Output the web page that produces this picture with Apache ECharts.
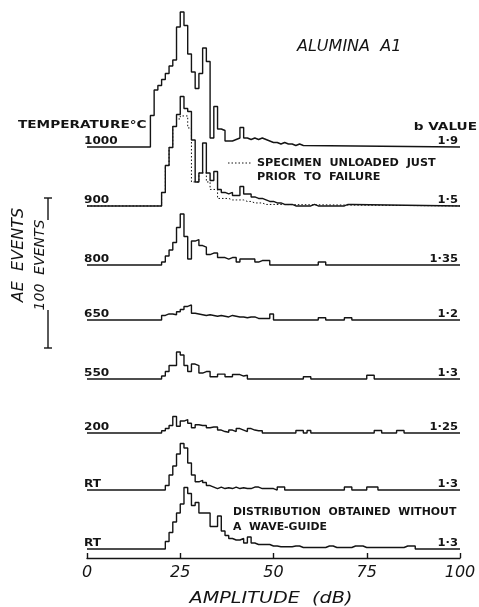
<!DOCTYPE html>
<html>
<head>
<meta charset="utf-8">
<script src="https://cdn.jsdelivr.net/npm/echarts@6/dist/echarts.min.js"></script>
<style>
  html, body { margin: 0; padding: 0; background: #fff; }
  #chart { width: 479px; height: 607px; }
</style>
</head>
<body>
<div id="chart"></div>
<script>
// AE events per 1 dB amplitude bin, first bin at BIN_START dB (zero elsewhere)
const BIN_START = 17;
const temps = ['1000', '900', '800', '650', '550', '200', 'RT', 'RT'];
const bValues = ['1·9', '1·5', '1·35', '1·2', '1·3', '1·25', '1·3', '1·3'];
const xTicks = [0, 25, 50, 75, 100];

const ev1000 = [21, 38, 41, 45, 49, 54, 58, 80, 90, 81, 62, 50, 39, 49, 66, 57, 6, 27, 12, 11,
  4, 4, 5, 6, 13, 6, 5, 6, 5, 6, 5, 4, 3, 3, 2, 3, 2, 2, 1, 2, 1];
const ev900 = [0, 0, 0, 9, 27, 39, 53, 61, 73, 65, 63, 44, 16, 22, 42, 22, 17, 23, 11, 9,
  8, 9, 7, 7, 13, 8, 8, 6, 5, 5, 4, 3, 3, 2, 2, 1, 1, 1, 0, 0,
  0, 0, 0, 1, 0, 0, 0, 0, 0, 0, 0, 0, 1, 1];
const ev900Unloaded = [0, 0, 0, 9, 27, 39, 53, 58, 60, 60, 52, 16, 16, 22, 22, 16, 11, 11, 5, 5,
  5, 4, 4, 4, 4, 3, 3, 2, 2, 2, 1, 1, 1];
const ev800 = [0, 0, 0, 2, 6, 10, 15, 25, 34, 19, 4, 16, 17, 13, 12, 7, 8, 8, 5, 5,
  4, 5, 5, 2, 4, 4, 4, 4, 2, 3, 3, 3, 0, 0, 0, 0, 0, 0, 0, 0,
  0, 0, 0, 0, 0, 2, 2];
const ev650 = [0, 0, 0, 3, 4, 4, 3.5, 5.5, 7, 9, 10, 4.5, 4, 3.5, 3, 3.5, 3, 2.5, 3, 2.5,
  2, 3, 2.5, 2, 2, 1.5, 2, 2, 1, 1, 1, 1, 4, 0, 0, 0, 0, 0, 0, 0,
  0, 0, 0, 0, 0, 1.5, 1.5, 0, 0, 0, 0, 0, 1.5, 1.5];
const ev550 = [0, 0, 0, 2, 5, 9, 9, 18, 16, 9, 5, 10, 9, 4, 5, 5, 1.5, 1.5, 3.3, 3.3,
  1.5, 1.5, 3, 3, 2, 2.5, 0, 0, 0, 0, 0, 0, 0, 0, 0, 0, 0, 0, 0, 0,
  0, 1.5, 1.5, 0, 0, 0, 0, 0, 0, 0, 0, 0, 0, 0, 0, 0, 0, 0, 2.5, 2.5];
const ev200 = [0, 0, 0, 1.5, 3, 5, 11, 4.5, 8, 9, 6.5, 3.5, 5.5, 5, 5, 3.5, 4, 4, 2, 1,
  0.5, 2, 1, 3, 2, 1, 3, 2, 1.5, 1.5, 0, 0, 0, 0, 0, 0, 0, 0, 0, 1.7,
  1.7, 0, 1.7, 0, 0, 0, 0, 0, 0, 0, 0, 0, 0, 0, 0, 0, 0, 0, 0, 0,
  1.7, 1.7, 0, 0, 0, 0, 1.7, 1.7];
const evRT = [0, 0, 0, 0, 3, 10, 16, 24, 31, 28, 18, 10, 5.5, 6.5, 5, 3, 2, 1, 2, 1,
  1.5, 1, 2, 1, 1.5, 1, 1, 2, 2, 1, 1, 1, 1, 0, 2, 2, 0, 0, 0, 0,
  0, 0, 0, 0, 0, 0, 0, 0, 0, 0, 0, 0, 2, 2, 0, 0, 0, 0, 2, 2, 2];
const evRTNoGuide = [0, 0, 0, 0, 5, 11, 18, 24, 30, 41, 37, 29, 31, 24, 24, 24, 15, 15, 22, 12,
  9, 7, 6, 6, 7, 4, 8, 4, 3, 3, 3, 3, 2, 2, 1.5, 1.5, 1.5, 1.5, 2, 2,
  1, 1, 1, 1, 1, 1, 1, 2, 2, 1, 1, 1, 1, 1, 2, 2, 2, 1, 1, 1,
  1, 1, 1, 1, 1, 1, 1, 1, 2, 2, 2];

const curves = [ev1000, ev900, ev800, ev650, ev550, ev200, evRT, evRTNoGuide];
// vertical stacking of the curves (in events above the amplitude axis)
const offsets = [274, 234.7, 195.3, 158.7, 119.3, 83.3, 45.3, 6];
const SCALE_BAR = [140, 240]; // 100 events

const FONT = 'DejaVu Sans';
const INK = '#141414';

function stepData(counts, off) {
  const pts = [[0, off]];
  counts.forEach((v, i) => pts.push([BIN_START + i, off + v]));
  pts.push([BIN_START + counts.length, off]);
  pts.push([100, off]);
  return pts;
}

const series = [{
  type: 'line',
  step: 'end',
  symbol: 'none',
  silent: true,
  data: stepData(ev900Unloaded, offsets[1]),
  lineStyle: { color: INK, width: 1, type: [1.5, 2] }
}];
curves.forEach((c, i) => {
  series.push({
    type: 'line',
    step: 'end',
    symbol: 'none',
    silent: true,
    data: stepData(c, offsets[i]),
    lineStyle: { color: INK, width: 1.4 }
  });
});

const chart = echarts.init(document.getElementById('chart'));
chart.setOption({
  animation: false,
  backgroundColor: '#fff',
  grid: { left: 87, right: 19, top: 3, bottom: 49 },
  xAxis: {
    type: 'value',
    min: xTicks[0],
    max: xTicks[xTicks.length - 1],
    interval: 25,
    splitLine: { show: false },
    axisLine: { lineStyle: { color: INK, width: 1.4 } },
    axisTick: { inside: true, length: 5, lineStyle: { color: INK, width: 1.4 } },
    axisLabel: {
      color: INK, fontFamily: FONT, fontSize: 16, fontStyle: 'italic', margin: 7,
      formatter: v => xTicks.includes(v) ? String(v) : ''
    }
  },
  yAxis: { type: 'value', min: 0, max: 370, show: false },
  series: series
});

// text and scale bar placed from the axes
const px = (x, y) => chart.convertToPixel({ gridIndex: 0 }, [x, y]);
const LABEL_FONT = 'bold 11px "' + FONT + '"';
const txt = (x, y, text, o) => Object.assign({
  type: 'text', x: x, y: y,
  style: Object.assign({
    text: text, fill: INK, font: LABEL_FONT,
    textAlign: 'left', textVerticalAlign: 'middle'
  }, o && o.style)
}, o && o.el);

const g = [];
curves.forEach((c, i) => {
  const base = px(0, offsets[i])[1];
  g.push(txt(84, base - 6, temps[i], { el: { scaleX: 1.1 } }));
  g.push(txt(458, base - 6, bValues[i], { style: { textAlign: 'right' }, el: { scaleX: 1.05 } }));
});
g.push(txt(18, 125, 'TEMPERATURE°C', { el: { scaleX: 1.24 } }));
g.push(txt(477, 127, 'b VALUE', { style: { textAlign: 'right' }, el: { scaleX: 1.24 } }));
g.push(txt(297, 47, 'ALUMINA  A1', { style: { font: 'italic 16px "' + FONT + '"' } }));
g.push(txt(257, 163, 'SPECIMEN  UNLOADED  JUST', { el: { scaleX: 1.02 } }));
g.push(txt(257, 177, 'PRIOR  TO  FAILURE', { el: { scaleX: 1.02 } }));
g.push({
  type: 'line', shape: { x1: 228, y1: 163, x2: 251, y2: 163 },
  style: { stroke: INK, lineWidth: 1, lineDash: [1.5, 2] }
});
g.push(txt(233, 512, 'DISTRIBUTION  OBTAINED  WITHOUT', { el: { scaleX: 0.99 } }));
g.push(txt(233, 527, 'A  WAVE-GUIDE', { el: { scaleX: 0.99 } }));
g.push(txt(271, 599, 'AMPLITUDE  (dB)', {
  style: { font: 'italic 15px "' + FONT + '"', textAlign: 'center' }, el: { scaleX: 1.28 }
}));
g.push(txt(19, 255, 'AE  EVENTS', {
  style: { font: 'italic 16px "' + FONT + '"', textAlign: 'center' }, el: { rotation: Math.PI / 2 }
}));

const yTop = px(0, SCALE_BAR[1])[1];
const yBot = px(0, SCALE_BAR[0])[1];
const barX = 48;
const mid = (yTop + yBot) / 2;
g.push(txt(40, mid - 8, '100  EVENTS', {
  style: { font: 'italic 14px "' + FONT + '"', textAlign: 'center' }, el: { rotation: Math.PI / 2 }
}));
g.push({ type: 'line', shape: { x1: barX, y1: yTop, x2: barX, y2: yTop + 22 }, style: { stroke: INK, lineWidth: 1.4 } });
g.push({ type: 'line', shape: { x1: barX, y1: yBot - 38, x2: barX, y2: yBot }, style: { stroke: INK, lineWidth: 1.4 } });
g.push({ type: 'line', shape: { x1: barX - 4, y1: yTop, x2: barX + 4, y2: yTop }, style: { stroke: INK, lineWidth: 1.4 } });
g.push({ type: 'line', shape: { x1: barX - 4, y1: yBot, x2: barX + 4, y2: yBot }, style: { stroke: INK, lineWidth: 1.4 } });

chart.setOption({ graphic: g });
</script>
</body>
</html>
